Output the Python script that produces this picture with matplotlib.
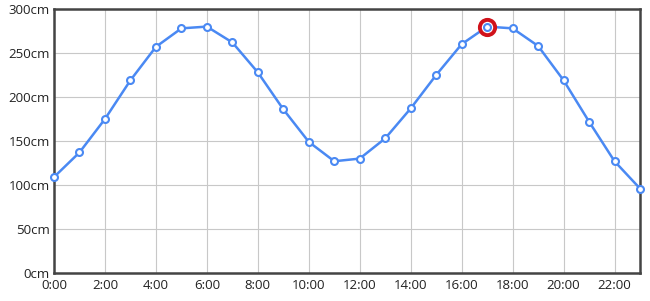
import matplotlib.pyplot as plt
import numpy as np

hours = list(range(24))
level_cm = [109, 137, 175, 219, 257, 278, 280, 262, 228, 186, 149, 127,
            130, 153, 187, 225, 260, 280, 278, 258, 219, 172, 127, 96]
highlight = 17

y_ticks = [0, 50, 100, 150, 200, 250, 300]
x_ticks = list(range(0, 24, 2))

plt.rcParams['font.family'] = ['Open Sans', 'DejaVu Sans']

fig = plt.figure(figsize=(6.5, 3.01), dpi=100)
ax = fig.add_axes([54 / 650, 28 / 301, 586 / 650, 264 / 301])

ax.plot(hours, level_cm, color='#4a89f3', lw=1.8, marker='o', ms=5,
        mfc='white', mec='#4a89f3', mew=1.5, zorder=3, clip_on=False)
# highlighted point
ax.plot(hours[highlight], level_cm[highlight], 'o', ms=11, mfc='white',
        mec='#d0121b', mew=2.8, zorder=4, clip_on=False)
ax.plot(hours[highlight], level_cm[highlight], 'o', ms=5, mfc='white',
        mec='#4a89f3', mew=1.5, zorder=5, clip_on=False)

ax.set_xlim(0, 23)
ax.set_ylim(0, 300)
ax.set_xticks(x_ticks)
ax.set_xticklabels(['%d:00' % h for h in x_ticks])
ax.set_yticks(y_ticks)
ax.set_yticklabels(['%dcm' % v for v in y_ticks])
ax.grid(True, color='#c8c8c8', lw=0.8)
ax.set_axisbelow(True)
ax.tick_params(length=0, labelsize=9.5, colors='#222222')
ax.tick_params(axis='x', pad=4)
ax.tick_params(axis='y', pad=3)

for side in ['left', 'bottom', 'top', 'right']:
    ax.spines[side].set_color('#444444')
    ax.spines[side].set_linewidth(1.8)

fig.savefig('out.png', dpi=100)
